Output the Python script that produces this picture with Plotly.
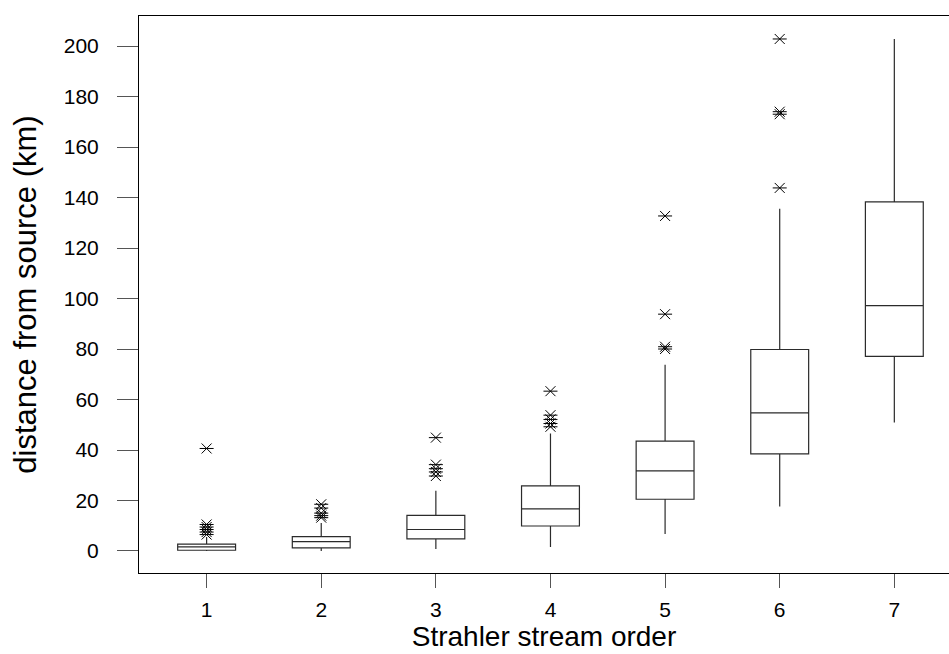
import plotly.graph_objects as go

# ---- data ----
categories = [1, 2, 3, 4, 5, 6, 7]
q1 = [0.3, 1.2, 4.8, 9.9, 20.5, 38.5, 77.1]
medians = [1.6, 3.7, 8.5, 16.7, 31.7, 54.7, 97.2]
q3 = [2.7, 5.7, 14.1, 25.8, 43.5, 79.8, 138.3]
lower_whisker = [0.0, 0.0, 0.8, 1.6, 6.7, 17.6, 50.9]
upper_whisker = [5.5, 11.1, 23.9, 46.5, 73.8, 135.6, 202.8]
outliers = {
    1: [40.6, 10.5, 9.5, 8.5, 7.5, 6.5],
    2: [18.5, 17.0, 15.0, 14.0, 13.2],
    3: [44.9, 34.2, 32.6, 31.3, 29.7],
    4: [63.3, 53.8, 52.1, 50.5, 49.2],
    5: [132.7, 93.8, 80.9, 80.0],
    6: [202.8, 174.0, 173.0, 143.8],
    7: [],
}
y_ticks = [0, 20, 40, 60, 80, 100, 120, 140, 160, 180, 200]

FONT = "Liberation Sans, Arial, sans-serif"
LINE = "#2b2b2b"

fig = go.Figure()
fig.add_trace(go.Box(
    x=categories, q1=q1, median=medians, q3=q3,
    lowerfence=lower_whisker, upperfence=upper_whisker,
    width=0.505, whiskerwidth=0, boxpoints=False,
    fillcolor="white", line=dict(color=LINE, width=1.2),
    showlegend=False, hoverinfo="skip",
))

ox = [c for c in categories for _ in outliers[c]]
oy = [v for c in categories for v in outliers[c]]
for sym in ["x-thin-open", "line-ew-open"]:
    fig.add_trace(go.Scatter(
        x=ox, y=oy, mode="markers",
        marker=dict(symbol=sym, size=10, color="black",
                    line=dict(color="black", width=1)),
        showlegend=False, hoverinfo="skip",
    ))

fig.update_layout(
    width=949, height=654,
    margin=dict(l=139, r=0, t=16, b=81),
    paper_bgcolor="white", plot_bgcolor="white",
    font=dict(family=FONT, color="black"),
    showlegend=False,
)
fig.update_xaxes(
    range=[0.41, 7.477],
    tickmode="array", tickvals=categories, ticktext=[str(c) for c in categories],
    ticks="outside", ticklen=14, tickcolor="#555", tickwidth=1,
    tickfont=dict(size=21, family=FONT, color="black"),
    ticklabelstandoff=4,
    showline=True, mirror=True, linecolor="black", linewidth=1,
    showgrid=False, zeroline=False,
    title=dict(text="Strahler stream order", font=dict(size=28, family=FONT, color="black"), standoff=2),
)
fig.update_yaxes(
    range=[-8.72, 211.9],
    tickmode="array", tickvals=y_ticks, ticktext=[str(v) for v in y_ticks],
    ticks="outside", ticklen=21, tickcolor="#555", tickwidth=1,
    tickfont=dict(size=21, family=FONT, color="black"),
    ticklabelstandoff=14,
    showline=True, mirror=False, linecolor="black", linewidth=1,
    showgrid=False, zeroline=False,
    title=dict(text="distance from source (km)", font=dict(size=31, family=FONT, color="black"), standoff=17),
)

fig.write_html("out.html")
